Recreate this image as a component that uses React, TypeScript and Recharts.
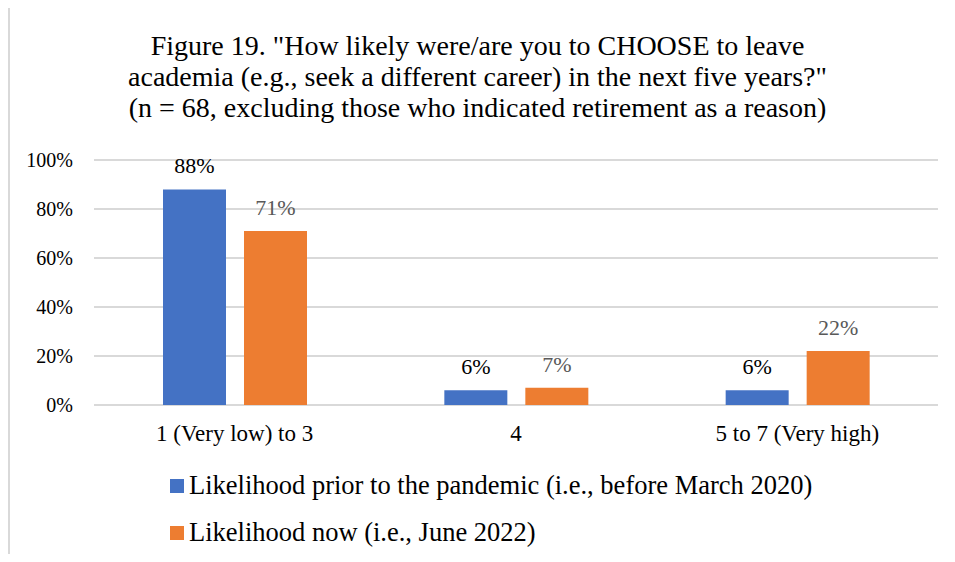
import React from "react";
import { BarChart, Bar, XAxis, YAxis, CartesianGrid, LabelList } from "recharts";

const categories = ["1 (Very low) to 3", "4", "5 to 7 (Very high)"];
const priorValues = [88, 6, 6];
const nowValues = [71, 7, 22];
const seriesNames = [
  "Likelihood prior to the pandemic (i.e., before March 2020)",
  "Likelihood now (i.e., June 2022)",
];
const yTicks = [0, 20, 40, 60, 80, 100];
const titleLines = [
  'Figure 19. "How likely were/are you to CHOOSE to leave',
  'academia (e.g., seek a different career) in the next five years?"',
  "(n = 68, excluding those who indicated retirement as a reason)",
];

const data = categories.map((c, i) => ({ cat: c, prior: priorValues[i], now: nowValues[i] }));

const FONT = '"Liberation Serif", "Times New Roman", serif';
const BLUE = "#4472C4";
const ORANGE = "#ED7D31";

export default function App() {
  return (
    <div style={{ position: "relative", margin: -8, width: 955, height: 562, background: "#fff", fontFamily: FONT, overflow: "hidden" }}>
      <div style={{ position: "absolute", left: 8, top: 5, width: 960, height: 570, borderLeft: "2px solid #d9d9d9", borderTop: "2px solid #d9d9d9", boxSizing: "border-box" }} />
      <div style={{ position: "absolute", left: 0, top: 30, width: 955, textAlign: "center", fontSize: 28, lineHeight: "31px", color: "#000" }}>
        {titleLines.map((t, i) => (
          <div key={i}>{t}</div>
        ))}
      </div>
      <div style={{ position: "absolute", left: 0, top: 0 }}>
        <BarChart
          width={955}
          height={562}
          data={data}
          margin={{ top: 160, right: 17, bottom: 117, left: 0 }}
          barSize={63}
          barGap={18}
        >
          <CartesianGrid horizontal vertical={false} stroke="#d9d9d9" strokeWidth={2} />
          <YAxis
            domain={[0, 100]}
            ticks={yTicks}
            width={94}
            axisLine={false}
            tickLine={false}
            tickSize={0}
            tickMargin={21}
            tickFormatter={(v) => `${v}%`}
            tick={{ fill: "#000", fontSize: 20, fontFamily: FONT }}
          />
          <XAxis
            dataKey="cat"
            height={40}
            axisLine={false}
            tickLine={false}
            tickSize={0}
            tickMargin={20}
            tick={{ fill: "#000", fontSize: 23, fontFamily: FONT }}
          />
          <Bar dataKey="prior" fill={BLUE} isAnimationActive={false}>
            <LabelList dataKey="prior" position="top" offset={16} formatter={(v) => `${v}%`} style={{ fill: "#000", fontSize: 22, fontFamily: FONT }} />
          </Bar>
          <Bar dataKey="now" fill={ORANGE} isAnimationActive={false}>
            <LabelList dataKey="now" position="top" offset={16} formatter={(v) => `${v}%`} style={{ fill: "#595959", fontSize: 22, fontFamily: FONT }} />
          </Bar>
        </BarChart>
      </div>
      <div style={{ position: "absolute", left: 170, top: 462, fontSize: 26.5, color: "#000" }}>
        {seriesNames.map((n, i) => (
          <div key={i} style={{ display: "flex", alignItems: "center", height: 47, whiteSpace: "nowrap" }}>
            <span style={{ display: "inline-block", width: 14, height: 14, background: i === 0 ? BLUE : ORANGE, marginRight: 5 }} />
            <span>{n}</span>
          </div>
        ))}
      </div>
    </div>
  );
}
